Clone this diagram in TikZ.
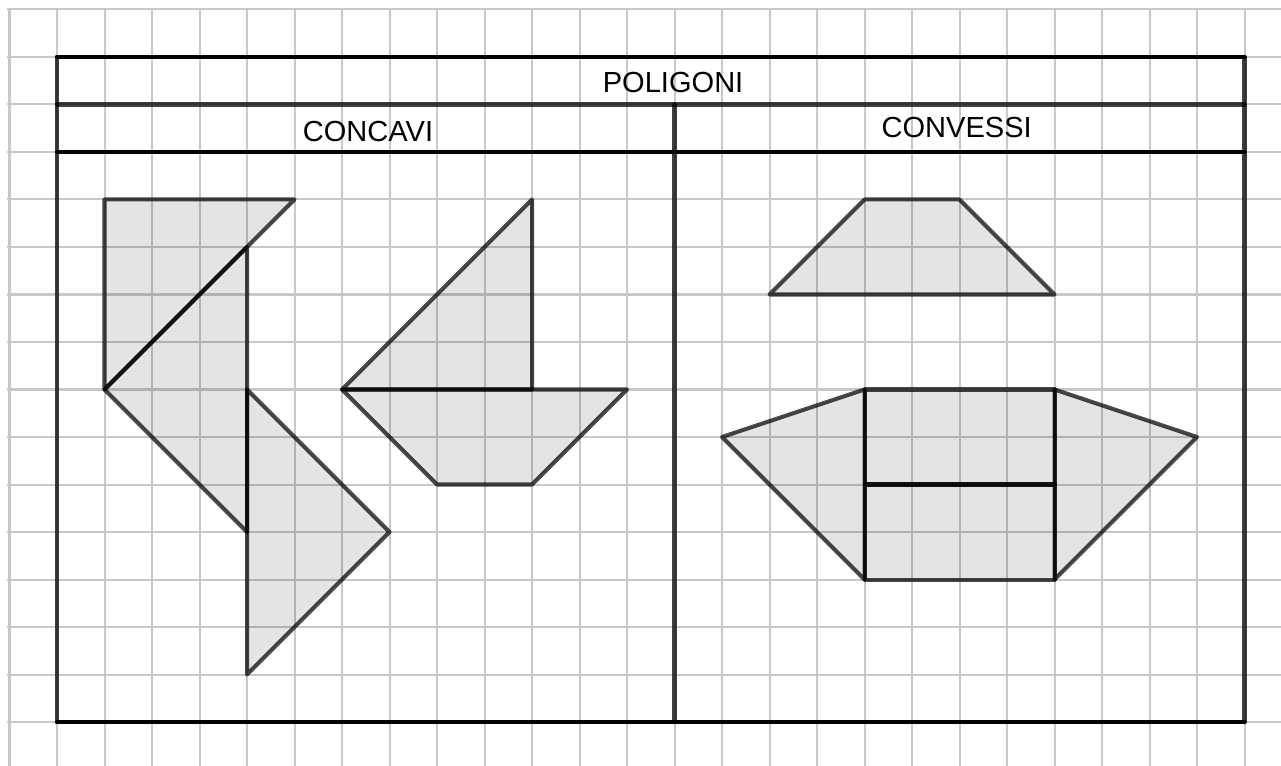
\documentclass[tikz,border=0pt]{standalone}
\usepackage{fontspec}
\setmainfont{Liberation Sans}
\begin{document}
\begin{tikzpicture}[x=1cm,y=-1cm,
  gridline/.style={draw={rgb,255:red,200;green,200;blue,200},line width=1.2pt},
  frameblack/.style={draw=black,line width=2.6pt,line cap=round},
  framegray/.style={draw=black,draw opacity=0.75,line width=2.5pt,line cap=round},
  shapefill/.style={fill=black,fill opacity=0.105},
  edge/.style={draw=black,draw opacity=0.72,line width=2.4pt,line cap=round,line join=round},
  lbl/.style={font=\fontsize{17.4}{20}\selectfont,anchor=base,inner sep=0pt}]
\useasboundingbox (-1.2,-1.2) rectangle (25.768,14.926);
% grid
\foreach \i in {-1,...,25} \draw[gridline] (\i,-1) -- (\i,14.926);
\foreach \j in {-1,...,14} \draw[gridline] (-1.05,\j) -- (25.768,\j);
% fills
\fill[shapefill] (1,3) -- (5,3) -- (4,4) -- (4,10) -- (1,7) -- cycle;
\fill[shapefill] (4,7) -- (7,10) -- (4,13) -- cycle;
\fill[shapefill] (6,7) -- (10,3) -- (10,7) -- cycle;
\fill[shapefill] (6,7) -- (12,7) -- (10,9) -- (8,9) -- cycle;
\fill[shapefill] (17,3) -- (19,3) -- (21,5) -- (15,5) -- cycle;
\fill[shapefill] (17,7) -- (21,7) -- (24,8) -- (21,11) -- (17,11) -- (14,8) -- cycle;
% frame
\draw[framegray] (0,0) -- (0,14);
\draw[framegray] (25,0) -- (25,14);
\draw[framegray] (13,1) -- (13,14);
\draw[framegray] (0,1) -- (25,1);
\draw[frameblack] (0,0) -- (25,0);
\draw[frameblack] (0,2) -- (25,2);
\draw[frameblack] (0,14) -- (25,14);
% concave shapes
\draw[edge] (1,3) -- (5,3) -- (1,7) -- cycle;
\draw[edge] (4,4) -- (4,10) -- (1,7) -- cycle;
\draw[edge] (4,7) -- (7,10) -- (4,13) -- cycle;
\draw[edge] (6,7) -- (10,3) -- (10,7) -- cycle;
\draw[edge] (6,7) -- (12,7) -- (10,9) -- (8,9) -- cycle;
% convex shapes
\draw[edge] (17,3) -- (19,3) -- (21,5) -- (15,5) -- cycle;
\draw[edge] (17,7) -- (14,8) -- (17,11) -- cycle;
\draw[edge] (21,7) -- (24,8) -- (21,11) -- cycle;
\draw[edge] (17,7) -- (21,7) -- (21,9) -- (17,9) -- cycle;
\draw[edge] (17,9) -- (21,9) -- (21,11) -- (17,11) -- cycle;
% labels
\node[lbl] (pol) at (12.97,0.758) {POLIGONI};
\node[lbl] (conc) at (6.547,1.789) {CONCAVI};
\node[lbl] (conv) at (18.94,1.705) {CONVESSI};
\end{tikzpicture}
\end{document}
